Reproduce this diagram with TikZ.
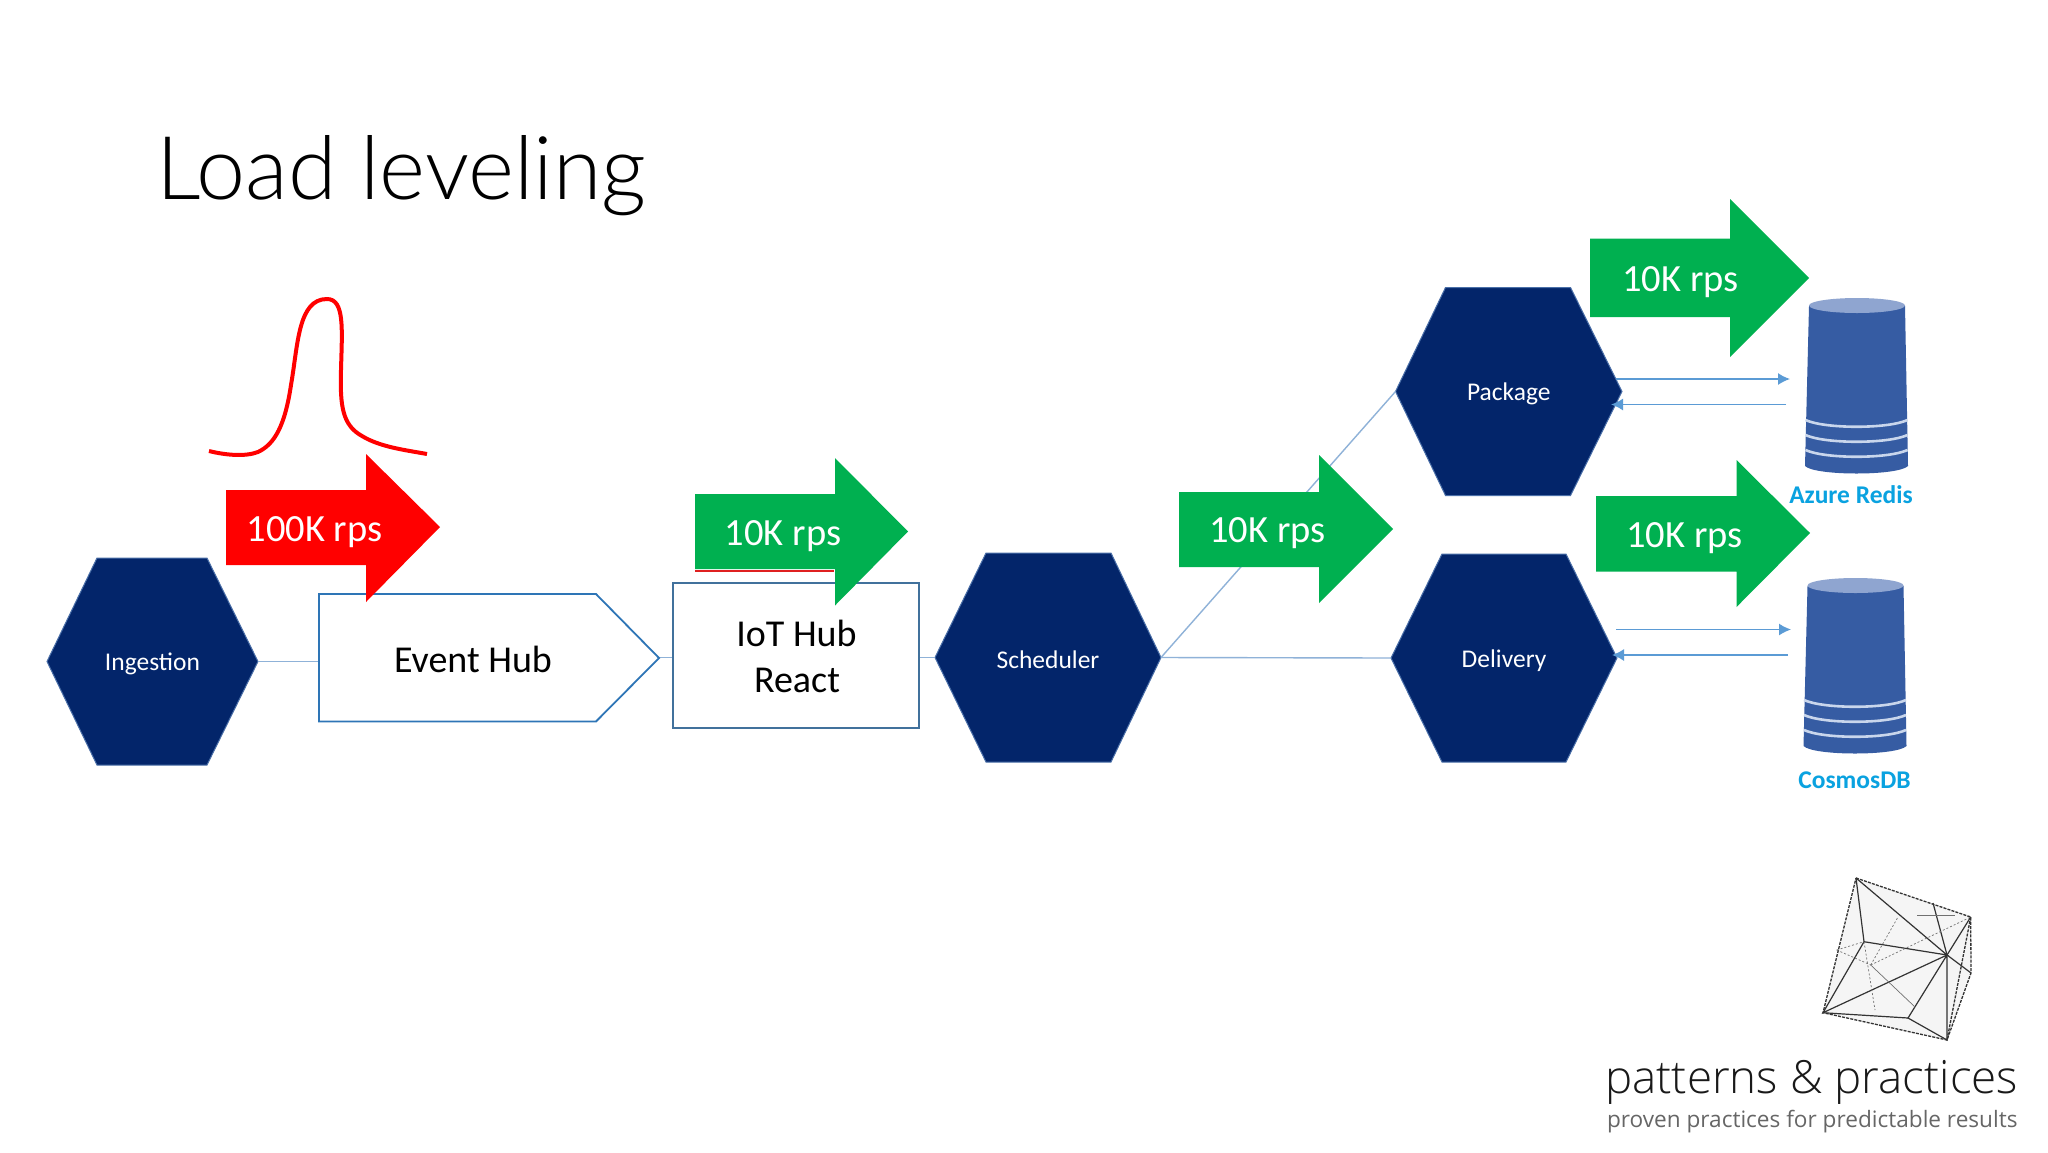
\documentclass[tikz,border=0pt]{standalone}
\usepackage{fontspec}
\setmainfont{Carlito}
\newfontfamily\logofont{Open Sans}[UprightFont=* Light]
\newfontfamily\tagfont{Open Sans}
\newfontfamily\titlefont{Lato}[UprightFont=* Light]
\usetikzlibrary{arrows.meta,calc}
\definecolor{navy}{HTML}{03256A}
\definecolor{navyedge}{HTML}{4A6FA8}
\definecolor{flowgreen}{HTML}{00B050}
\definecolor{linkblue}{HTML}{8FB2D8}
\definecolor{arrowblue}{HTML}{5B9BD5}
\definecolor{boxblue}{HTML}{2E75B6}
\definecolor{iotblue}{HTML}{41719C}
\definecolor{cylbody}{HTML}{365CA3}
\definecolor{cyltop}{HTML}{8FA5D0}
\definecolor{cylband}{HTML}{C9D6EC}
\definecolor{storelabel}{HTML}{0AA2E0}
\definecolor{logoline}{HTML}{333333}
\tikzset{
  pxfont/.style={font=\fontsize{#1}{#1}\selectfont},
  blank/.style={inner sep=0pt,outer sep=0pt,align=center},
  hexshape/.style={fill=navy,draw=navyedge,line width=1pt},
  hextext/.style={blank,text=white,pxfont=25.5},
  flowtext/.style={blank,text=white,pxfont=38.5},
  boxtext/.style={blank,text=black,pxfont=38},
  link/.style={draw=linkblue,line width=1.4pt},
  dblink/.style={draw=arrowblue,line width=1.5pt,-{Latex[length=12pt,width=12pt]}},
  storetext/.style={blank,text=storelabel,font=\fontsize{25.5}{25.5}\selectfont\bfseries},
  cylbandline/.style={draw=cylband,line width=2.6pt},
  logosolid/.style={draw=logoline,line width=1.2pt},
  logodash/.style={draw=logoline,line width=1.3pt,dash pattern=on 3pt off 1.2pt},
  logothin/.style={draw=logoline!70,line width=.7pt,dash pattern=on 2pt off 2pt},
}
% name, left, top-left, top-right, right, top, bottom, text
\newcommand{\hexa}[8]{%
  \path[hexshape] (#2,{(#6+#7)/2}) -- (#3,#6) -- (#4,#6) -- (#5,{(#6+#7)/2}) -- (#4,#7) -- (#3,#7) -- cycle;
  \node[blank,minimum width={(#5-#2)*1pt},minimum height={(#7-#6)*1pt}] (#1) at ({(#2+#5)/2},{(#6+#7)/2}) {};
  \node[hextext] (#1label) at ([yshift=-2.5pt]#1.center) {#8};
}
% colour, left, shaft top, shaft bottom, base x, head top, head bottom, tip x, tip y
\newcommand{\flowarrow}[9]{%
  \fill[#1] (#2,#3) -- (#5,#3) -- (#5,#6) -- (#8,#9) -- (#5,#7) -- (#5,#4) -- (#2,#4) -- cycle;
}
\newcommand{\cylshape}{%
  \fill[cylbody] (1809,306) -- (1805,466) .. controls (1815,476) and (1898,476) .. (1908,466) -- (1905,306) -- cycle;
  \fill[cyltop] (1857,305.5) ellipse [x radius=48,y radius=7.5];
  \path[cylbandline] (1805.5,420) .. controls (1825,429) and (1888,429) .. (1907.5,420);
  \path[cylbandline] (1805.5,435) .. controls (1825,444) and (1888,444) .. (1907.5,435);
  \path[cylbandline] (1805.5,450) .. controls (1825,459) and (1888,459) .. (1907.5,450);
}
\begin{document}
\begin{tikzpicture}[x=1pt,y=-1pt]
\useasboundingbox (0,0) rectangle (2048,1152);
\fill[white] (0,0) rectangle (2048,1152);

% title
\node[blank,anchor=base west,font=\titlefont\fontsize{88}{88}\selectfont] (title) at (156,199) {Load leveling};

% named nodes for boxes (text only; outlines below)
\node[blank,minimum width=340pt,minimum height=127pt] (eventhub) at (489,657.5) {};
\node[blank,minimum width=246pt,minimum height=145pt] (iot) at (796,655.5) {};

% hexagons
\hexa{ingestion}{47}{97}{207}{258}{558}{765}{Ingestion}
\hexa{scheduler}{935}{986}{1111}{1161}{553}{762}{Scheduler}
\hexa{package}{1395.5}{1445.5}{1570.5}{1622}{287.5}{495.5}{Package}
\hexa{delivery}{1391}{1442}{1566}{1617}{554}{762}{Delivery}

% connectors
\draw[link] (ingestion.east) -- (ingestion.east -| eventhub.west);
\draw[link] (eventhub.east) -- (eventhub.east -| iot.west);
\draw[link] (iot.east |- scheduler.west) -- (scheduler.west);
\draw[link] (scheduler.east) -- (package.west);
\draw[link] (scheduler.east) -- (delivery.west);

% boxes
\path[draw=boxblue,line width=1.8pt,fill=white] (319,594) -- (596,594) -- (659,658) -- (596,721.5) -- (319,721.5) -- cycle;
\node[boxtext] (eventlabel) at (473,659) {Event Hub};
\path[draw=iotblue,line width=1.8pt,fill=white] (673,583) rectangle (919,728);
\node[boxtext,align=center] (iotlabel1) at (796.5,633) {IoT Hub};
\node[boxtext] (iotlabel2) at (797,680) {React};

% peak
\draw[red,line width=4pt,line join=round]
  (209,451) .. controls (225,455) and (245,457) .. (258,452)
  .. controls (275,444) and (285,425) .. (291,385)
  .. controls (298,345) and (298,299) .. (327,299)
  .. controls (345,299) and (342,330) .. (341,370)
  .. controls (340,405) and (342,425) .. (362,436)
  .. controls (380,447) and (405,450) .. (427,454);

% thin red edge under second arrow
\draw[red!75!gray,line width=1.4pt] (695,571) -- (834,571);

% flow arrows
\flowarrow{red}{226}{490}{565}{366}{454}{602}{440}{527}
\node[flowtext] (rate1) at (314.5,532.5) {100K rps};
\flowarrow{flowgreen}{695}{494}{569}{835}{458}{605.5}{908}{531.5}
\node[flowtext] (rate2) at (783,536) {10K rps};
\flowarrow{flowgreen}{1179}{492}{567}{1319}{455}{603}{1393}{529}
\node[flowtext] (rate3) at (1267.5,533.5) {10K rps};
\flowarrow{flowgreen}{1590}{238.5}{317}{1730}{199}{357}{1809}{278}
\node[flowtext] (rate4) at (1680.5,282.5) {10K rps};
\flowarrow{flowgreen}{1596}{496}{571.5}{1736.5}{460}{607}{1810}{533}
\node[flowtext] (rate5) at (1684.5,538.5) {10K rps};

% stores
\cylshape
\begin{scope}[shift={(-1.5,280)}]\cylshape\end{scope}
\node[storetext] (redis) at (1851,494.5) {Azure Redis};
\node[storetext] (cosmos) at (1854.5,780.5) {CosmosDB};

% request arrows
\coordinate (pkgout) at (1616,379);
\coordinate (redisin) at (1790,379);
\coordinate (redisout) at (1786,404.5);
\coordinate (pkgin) at (1611,404.5);
\coordinate (delout) at (1616,629.5);
\coordinate (cosmosin) at (1791,629.5);
\coordinate (cosmosout) at (1788,655);
\coordinate (delin) at (1612,655);
\draw[dblink] (pkgout) -- (redisin);
\draw[dblink] (redisout) -- (pkgin);
\draw[dblink] (delout) -- (cosmosin);
\draw[dblink] (cosmosout) -- (delin);

% logo
\coordinate (A) at (1856,878);
\coordinate (B) at (1970.7,917);
\coordinate (C) at (1971,973);
\coordinate (D) at (1947,1040);
\coordinate (E) at (1823,1012.7);
\coordinate (F) at (1947,955);
\coordinate (G) at (1864,941.7);
\coordinate (H) at (1908,1018);
\coordinate (I) at (1870.7,965);
\coordinate (J) at (1836.7,950);
\coordinate (K) at (1933,903);
\coordinate (L) at (1898,917);
\fill[gray!8] (A) -- (B) -- (C) -- (D) -- (E) -- cycle;
\draw[logodash] (A) -- (B) -- (C) -- (D) -- (E) -- cycle;
\draw[logodash] (B) -- (D);
\draw[logosolid] (A) -- (G) -- (F) -- (A);
\draw[logosolid] (G) -- (E) -- (F) -- (D) -- (H) -- (F);
\draw[logosolid] (E) -- (H);
\draw[logosolid] (F) -- (C);
\draw[logosolid] (F) -- (B);
\draw[logosolid] (K) -- (F);
\draw[logothin] (J) -- (G);
\draw[logothin] (J) -- (I);
\draw[logothin] (I) -- (L);
\draw[logothin] (I) -- (B);
\draw[logothin] (G) -- (1875,1010);
\draw[logosolid,draw=logoline!70,line width=.7pt] (I) -- (1915,1007);
\draw[logosolid,draw=logoline!70,line width=.7pt] (1917,915) -- (1955,915);

\node[blank,anchor=base west,text=black!90,font=\logofont\fontsize{45.7}{45.7}\selectfont] (logotext) at (1605,1093) {patterns \& practices};
\node[blank,anchor=base west,text=black!60,font=\tagfont\fontsize{22.6}{22.6}\selectfont] (tagline) at (1607,1127) {proven practices for predictable results};
\end{tikzpicture}
\end{document}
